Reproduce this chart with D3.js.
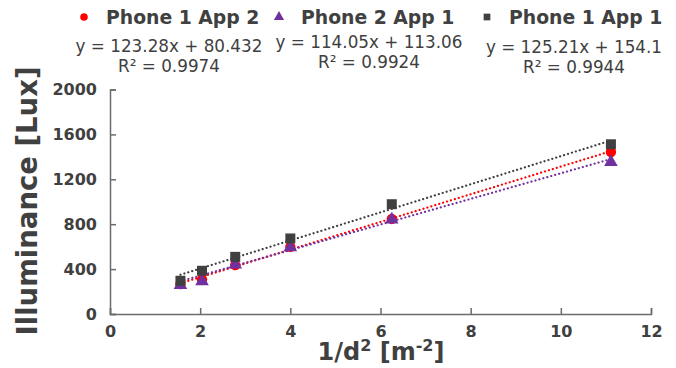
<!DOCTYPE html>
<html><head><meta charset="utf-8">
<script src="https://cdn.jsdelivr.net/npm/d3@7"></script>
<style>body{margin:0;background:#fff}svg{display:block;font-family:"DejaVu Sans",sans-serif}</style>
</head><body><svg id="c" width="676" height="368"></svg>
<script>
const xValues = [1.5625, 2.0408, 2.7778, 4, 6.25, 11.111];
const seriesNames = ["Phone 1 App 2", "Phone 2 App 1", "Phone 1 App 1"];
const phone1App2 = [267, 308, 436, 598, 847, 1443];
const phone2App1 = [258, 290, 440, 593, 842, 1354];
const phone1App1 = [296, 385, 509, 673, 978, 1512];
const slopes = [123.28, 114.05, 125.21];
const intercepts = [80.432, 113.06, 154.1];
const equations = ["y = 123.28x + 80.432", "y = 114.05x + 113.06", "y = 125.21x + 154.1"];
const rSquared = ["R² = 0.9974", "R² = 0.9924", "R² = 0.9944"];
const xTicks = [0, 2, 4, 6, 8, 10, 12];
const yTicks = [0, 400, 800, 1200, 1600, 2000];
const colors = ["#ff0000", "#7030a0", "#404040"];
const symbols = [d3.symbolCircle, d3.symbolTriangle, d3.symbolSquare];

const svg = d3.select("#c");
const x = d3.scaleLinear().domain([0, 12]).range([110, 651]);
const y = d3.scaleLinear().domain([0, 2000]).range([314, 89.5]);
const txt = "#404040", axc = "#6b6b6b";

const xAxis = svg.append("g").attr("transform", "translate(0,314)")
  .call(d3.axisBottom(x).tickValues(xTicks).tickFormat(d3.format("d")).tickSizeInner(-6).tickSizeOuter(-6).tickPadding(12));
const yAxis = svg.append("g").attr("transform", "translate(110,0)")
  .call(d3.axisLeft(y).tickValues(yTicks).tickFormat(d3.format("d")).tickSizeInner(-6).tickSizeOuter(-6).tickPadding(13));
[xAxis, yAxis].forEach(a => {
  a.selectAll("path,line").attr("stroke", axc).attr("stroke-width", 1.5);
  a.selectAll("text").attr("fill", txt).attr("font-size", 16).attr("font-weight", "bold")
    .attr("font-family", "DejaVu Sans");
});

const series = [phone1App2, phone2App1, phone1App1];
series.forEach((s, i) => {
  const x0 = d3.min(xValues), x1 = d3.max(xValues);
  svg.append("line")
    .attr("x1", x(x0)).attr("y1", y(slopes[i] * x0 + intercepts[i]))
    .attr("x2", x(x1)).attr("y2", y(slopes[i] * x1 + intercepts[i]))
    .attr("stroke", colors[i]).attr("stroke-width", 2.2)
    .attr("stroke-dasharray", "0.1 4").attr("stroke-linecap", "round");
});
const sizes = [85, 80, 100];
series.forEach((s, i) => {
  svg.append("g").selectAll("path").data(s).join("path")
    .attr("transform", (d, j) => `translate(${x(xValues[j])},${y(d)})`)
    .attr("d", d3.symbol().type(symbols[i]).size(sizes[i]))
    .attr("fill", colors[i]);
});

const legX = [84, 279, 487];
seriesNames.forEach((n, i) => {
  svg.append("path").attr("transform", `translate(${legX[i]},17)`)
    .attr("d", d3.symbol().type(symbols[i]).size(45)).attr("fill", colors[i]);
  svg.append("text").attr("x", legX[i] + 22).attr("y", 24).text(n)
    .attr("fill", txt).attr("font-size", 18.8).attr("font-weight", "bold");
});
const eqX = [169, 369, 574], eqY = [52, 48, 53];
equations.forEach((e, i) => {
  svg.append("text").attr("x", eqX[i]).attr("y", eqY[i]).attr("text-anchor", "middle")
    .text(e).attr("fill", txt).attr("font-size", 16.8);
  svg.append("text").attr("x", eqX[i]).attr("y", eqY[i] + 19.5).attr("text-anchor", "middle")
    .text(rSquared[i]).attr("fill", txt).attr("font-size", 16.8);
});

svg.append("text").attr("transform", "translate(37,201) rotate(-90)").attr("text-anchor", "middle")
  .text("Illuminance [Lux]").attr("fill", txt).attr("font-size", 27.5).attr("font-weight", "bold");
const xt = svg.append("text").attr("x", 381).attr("y", 360).attr("text-anchor", "middle")
  .attr("fill", txt).attr("font-size", 24).attr("font-weight", "bold");
xt.append("tspan").text("1/d");
xt.append("tspan").text("2").attr("font-size", 16).attr("dy", -9);
xt.append("tspan").text(" [m").attr("font-size", 24).attr("dy", 9);
xt.append("tspan").text("-2").attr("font-size", 16).attr("dy", -9);
xt.append("tspan").text("]").attr("font-size", 24).attr("dy", 9);
</script></body></html>
